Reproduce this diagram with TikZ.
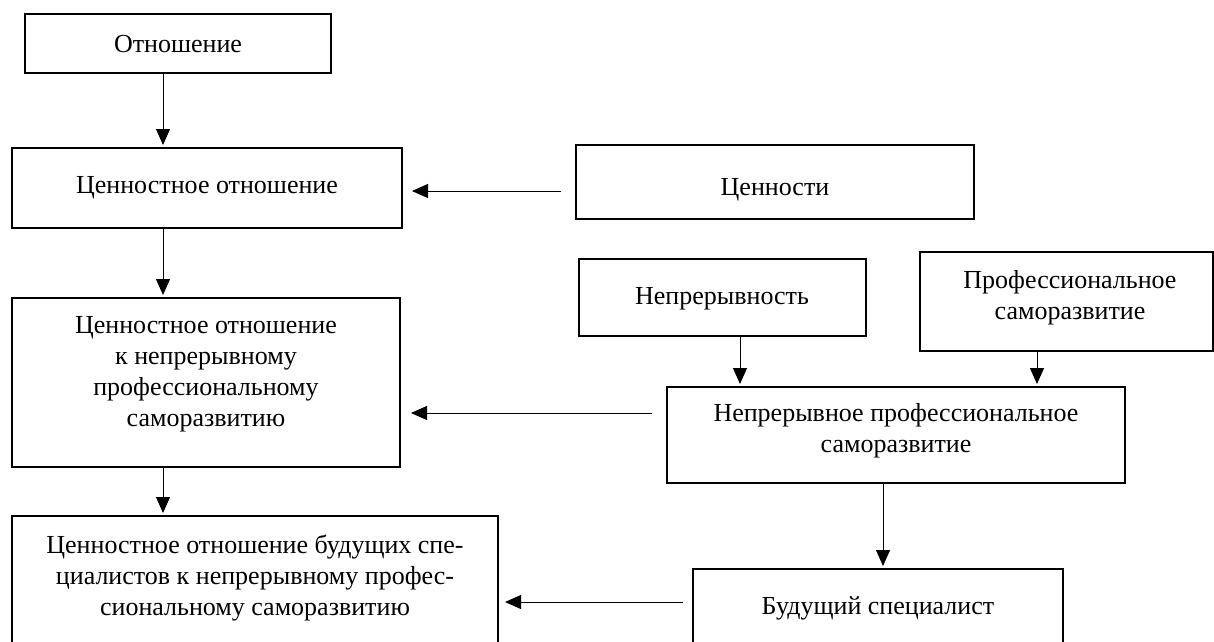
\documentclass[tikz,border=0pt]{standalone}
\usepackage{fontspec}
\setmainfont{Liberation Serif}
\usetikzlibrary{arrows.meta}
\begin{document}
\begin{tikzpicture}[x=1pt,y=-1pt,
  box/.style={draw, line width=2pt, inner sep=0pt},
  lbl/.style={font=\fontsize{26}{31}\selectfont, align=center, inner sep=0pt},
  arr/.style={line width=1pt, -{Triangle[length=16pt,width=14pt]}}]
\useasboundingbox (0,0) rectangle (1214,641);
% boxes
\node[box, minimum width=306pt, minimum height=59pt]  (b1)   at (178,43.5) {};
\node[box, minimum width=390pt, minimum height=80pt]  (b2)   at (207,188) {};
\node[box, minimum width=388pt, minimum height=169pt] (b3)   at (206,382.5) {};
\node[box, minimum width=486pt, minimum height=134pt] (b5)   at (255,583) {};
\node[box, minimum width=398pt, minimum height=74pt]  (cen)  at (775,182) {};
\node[box, minimum width=287pt, minimum height=77pt]  (nep)  at (722.5,297.5) {};
\node[box, minimum width=293pt, minimum height=99pt]  (prof) at (1066.5,301.5) {};
\node[box, minimum width=458pt, minimum height=96pt]  (nps)  at (896,435) {};
\node[box, minimum width=370pt, minimum height=81pt]  (bud)  at (878,609.5) {};
% texts
\node[lbl] (t1) at (178,44) {Отношение};
\node[lbl] (t2) at (207,188) {Ценностное отношение};
\node[lbl] (t3) at (206,374) {Ценностное отношение\\к непрерывному\\профессиональному\\саморазвитию};
\node[lbl] (t5) at (255,578) {Ценностное отношение будущих спе-\\циалистов к непрерывному профес-\\сиональному саморазвитию};
\node[lbl] (tcen) at (775,190) {Ценности};
\node[lbl] (tnep) at (722,299) {Непрерывность};
\node[lbl] (tprof) at (1070,298) {Профессиональное\\саморазвитие};
\node[lbl] (tnps) at (896,431) {Непрерывное профессиональное\\саморазвитие};
\node[lbl] (tbud) at (878,608) {Будущий специалист};
% helper coordinates
\coordinate (colA) at (163,0);
\coordinate (colN) at (740,0);
\coordinate (colP) at (1037,0);
\coordinate (colS) at (883,0);
\coordinate (rowA) at (0,191);
\coordinate (rowB) at (0,413);
\coordinate (rowC) at (0,602);
% connectors
\draw[arr, shorten >=2pt] (b1.south -| colA) -- (b2.north -| colA);
\draw[arr, shorten <=14pt, shorten >=9pt] (cen.west |- rowA) -- (b2.east |- rowA);
\draw[arr, shorten >=2pt] (b2.south -| colA) -- (b3.north -| colA);
\draw[arr, shorten >=2pt] (nep.south -| colN) -- (nps.north -| colN);
\draw[arr, shorten >=2pt] (prof.south -| colP) -- (nps.north -| colP);
\draw[arr, shorten <=14pt, shorten >=10pt] (nps.west |- rowB) -- (b3.east |- rowB);
\draw[arr, shorten >=2pt] (b3.south -| colA) -- (b5.north -| colA);
\draw[arr, shorten >=2pt] (nps.south -| colS) -- (bud.north -| colS);
\draw[arr, shorten <=9pt, shorten >=6pt] (bud.west |- rowC) -- (b5.east |- rowC);
\end{tikzpicture}
\end{document}
